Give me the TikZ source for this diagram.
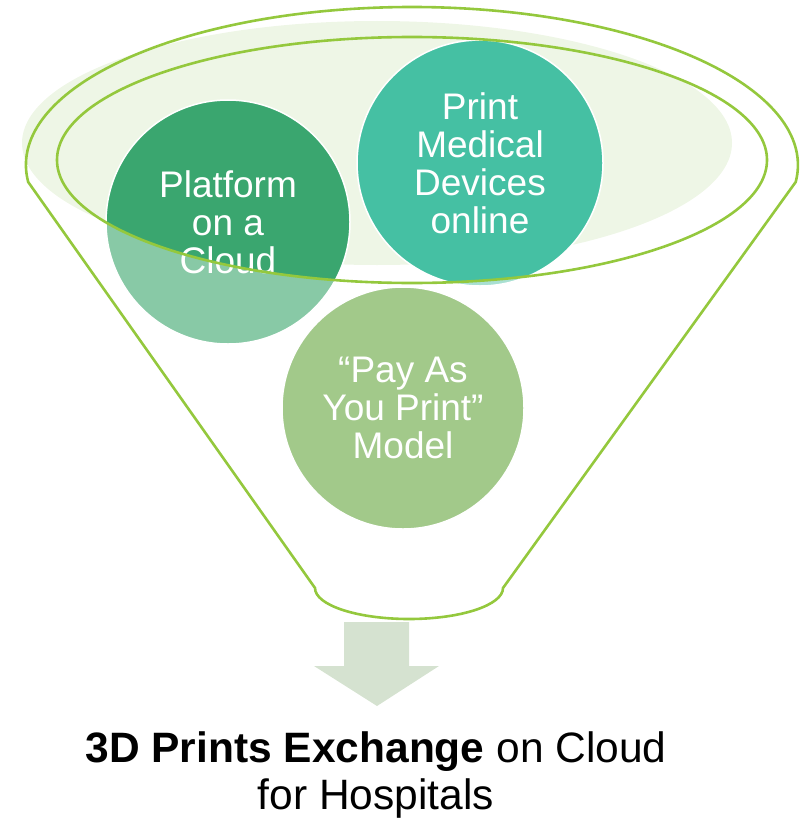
\documentclass[tikz,border=0pt]{standalone}
\usepackage{fontspec}
\setmainfont{Liberation Sans}
\definecolor{vert}{HTML}{94C83D}
\definecolor{fond}{HTML}{EEF6E6}
\definecolor{platfonce}{HTML}{3AA66F}
\definecolor{platclair}{HTML}{88C9A6}
\definecolor{printfonce}{HTML}{45C0A3}
\definecolor{printclair}{HTML}{A9E0D2}
\definecolor{pay}{HTML}{A2C98A}
\definecolor{fleche}{HTML}{D5E2D0}
\begin{document}
\begin{tikzpicture}[x=1bp,y=-1bp,
  bulle/.style={circle,draw=white,line width=1.5bp,inner sep=0pt},
  texte/.style={text=white,align=center,font=\fontsize{37bp}{38bp}\selectfont},
  bord/.style={draw=vert,line width=2.6bp}]
\useasboundingbox (0,0) rectangle (800,818);
\fill[fond] (377,143) ellipse [x radius=355,y radius=122];
\foreach \n/\x/\y/\r/\c in {plat/228/222/244/platclair, print/480/163/246/printclair, pay/403/408/242/pay}
  \node[bulle,fill=\c,minimum size=\r bp] (\n) at (\x,\y) {};
% partie des bulles dans l'ellipse
\begin{scope}
  \clip (412,160) ellipse [x radius=355,y radius=123];
  \fill[platfonce] (plat.center) circle (121);
  \fill[printfonce] (print.center) circle (122);
\end{scope}
\node[texte] (tplat) at (plat.center) {Platform\\on a\\Cloud};
\node[texte] (tprint) at (print.center) {Print\\Medical\\Devices\\online};
\node[texte] (tpay) at (pay.center) {“Pay As\\You Print”\\Model};
% entonnoir
\draw[bord] (412,160) ellipse [x radius=355,y radius=123];
\draw[bord] (28.2,182) arc [start angle=173.82,end angle=366.18,x radius=386,y radius=158]
  -- (503,588) arc [start angle=0,end angle=180,x radius=94,y radius=31] -- cycle;
\fill[fleche] (344,622) -- (409,622) -- (409,666) -- (439,666) -- (377,706) -- (314,666) -- (344,666) -- cycle;
\node[align=center,font=\fontsize{42.5bp}{47bp}\selectfont] (titre) at (376,775)
  {\textbf{3D Prints Exchange} on Cloud\\for Hospitals};
\end{tikzpicture}
\end{document}
